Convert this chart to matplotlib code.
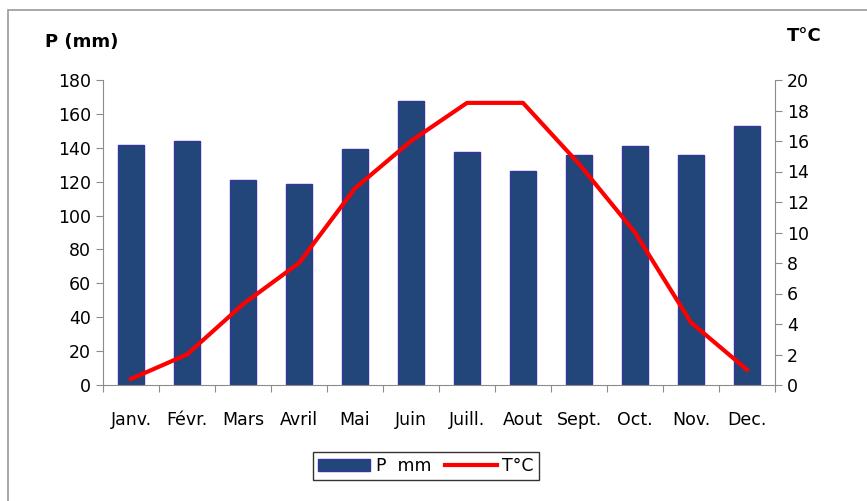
import matplotlib.pyplot as plt
from matplotlib.patches import Rectangle
import numpy as np

months = ['Janv.', 'Févr.', 'Mars', 'Avril', 'Mai', 'Juin',
          'Juill.', 'Aout', 'Sept.', 'Oct.', 'Nov.', 'Dec.']
precip = [141.5, 144, 121, 118.5, 139.5, 167.5, 137.5, 126.5, 136, 141, 135.5, 153]
temp = [0.4, 2.0, 5.3, 8.0, 12.9, 16.0, 18.5, 18.5, 14.5, 10.0, 4.1, 1.0]

plt.rcParams['font.family'] = 'DejaVu Sans'
plt.rcParams['font.size'] = 12

fig = plt.figure(figsize=(8.67, 5.01), dpi=100)
ax = fig.add_axes([103 / 867, 1 - 385 / 501, 672 / 867, 305 / 501])

# outer frame
fig.patches.append(Rectangle((8 / 867, -0.05), 1.1, 1 - 10 / 501 + 0.05,
                             transform=fig.transFigure, fill=False,
                             edgecolor='#9a9a9a', linewidth=1.2))

x = np.arange(len(months))
bars = ax.bar(x, precip, width=0.47, color='#22457a', edgecolor='#33379a',
              linewidth=1.0, label='P  mm', zorder=2)
ax.set_ylim(0, 180)
ax.set_yticks(range(0, 181, 20))
ax.set_xlim(-0.5, 11.5)

ax2 = ax.twinx()
line, = ax2.plot(x, temp, color='#ff0000', linewidth=3, label='T°C', zorder=3)
ax2.set_ylim(0, 20)
ax2.set_yticks(range(0, 21, 2))

gray = '#8c8c8c'
for a in (ax, ax2):
    a.spines['top'].set_visible(False)
    for s in ('left', 'right', 'bottom'):
        a.spines[s].set_color(gray)
    a.tick_params(axis='y', colors=gray, labelcolor='black', length=5, labelsize=12.5)
ax.spines['right'].set_visible(False)
ax2.spines['left'].set_visible(False)
ax2.spines['bottom'].set_visible(False)

# x ticks at category boundaries, labels centered
ax.set_xticks(np.arange(-0.5, 12, 1))
ax.set_xticklabels([])
ax.set_xticks(x, minor=True)
ax.set_xticklabels(months, minor=True, fontsize=12.5)
ax.tick_params(axis='x', which='major', direction='out', length=5, colors=gray)
ax.tick_params(axis='x', which='minor', length=0, pad=19, labelcolor='black')

fig.text(45 / 867, 1 - 42 / 501, 'P (mm)', fontsize=13, fontweight='bold', va='center')
fig.text(787 / 867, 1 - 36 / 501, 'T°C', fontsize=13, fontweight='bold', va='center')

leg = fig.legend([bars, line], ['P  mm', 'T°C'], loc='center',
                 bbox_to_anchor=(426 / 867, 1 - 466 / 501), ncol=2,
                 frameon=True, fancybox=False, edgecolor='black',
                 fontsize=12.5, handlelength=3, handletextpad=0.3,
                 columnspacing=0.8, borderpad=0.3)
leg.get_frame().set_linewidth(1.0)

fig.savefig('out.png', dpi=100)
